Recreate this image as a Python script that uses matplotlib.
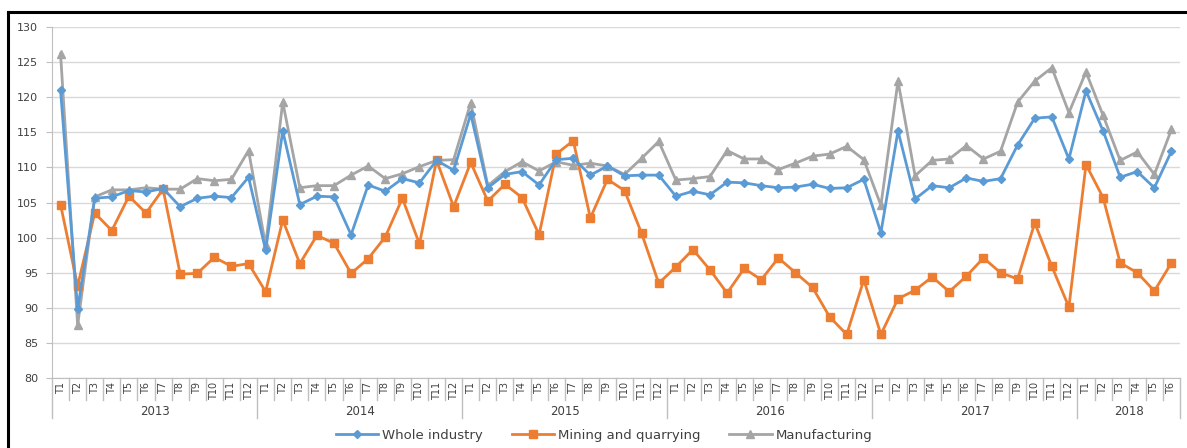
import matplotlib
matplotlib.use("Agg")
import matplotlib.pyplot as plt
from matplotlib.lines import Line2D
import matplotlib.transforms as mtransforms

years = ["2013", "2014", "2015", "2016", "2017", "2018"]
months_per_year = [12, 12, 12, 12, 12, 6]
month_labels = [f"T{m}" for n in months_per_year for m in range(1, n + 1)]

whole_industry = [
    121.0, 89.8, 105.6, 105.8, 106.7, 106.5, 107.0, 104.4, 105.6, 105.9, 105.7, 108.6,
    98.2, 115.2, 104.7, 105.9, 105.8, 100.4, 107.5, 106.6, 108.4, 107.8, 111.0, 109.6,
    117.6, 107.1, 109.0, 109.4, 107.5, 111.1, 111.3, 108.9, 110.2, 108.8, 108.9, 108.9,
    105.9, 106.6, 106.1, 107.9, 107.8, 107.4, 107.1, 107.2, 107.6, 107.0, 107.1, 108.3,
    100.7, 115.2, 105.5, 107.4, 107.1, 108.5, 108.0, 108.4, 113.2, 117.0, 117.2, 111.2,
    120.9, 115.2, 108.6, 109.4, 107.1, 112.3,
]
mining = [
    104.7, 93.1, 103.5, 101.0, 105.9, 103.5, 106.9, 94.8, 94.9, 97.2, 95.9, 96.3,
    92.3, 102.5, 96.3, 100.3, 99.2, 94.9, 97.0, 100.1, 105.6, 99.1, 111.0, 104.4,
    110.7, 105.2, 107.6, 105.7, 100.4, 111.9, 113.8, 102.8, 108.3, 106.7, 100.6, 93.5,
    95.8, 98.3, 95.4, 92.1, 95.6, 94.0, 97.1, 95.0, 92.9, 88.7, 86.2, 94.0,
    86.2, 91.3, 92.5, 94.4, 92.3, 94.5, 97.1, 95.0, 94.1, 102.1, 95.9, 90.1,
    110.4, 105.7, 96.4, 95.0, 92.4, 96.4,
]
manufacturing = [
    126.2, 87.5, 105.8, 106.8, 106.8, 107.1, 106.9, 106.9, 108.4, 108.1, 108.3, 112.4,
    98.9, 119.3, 107.1, 107.4, 107.4, 108.9, 110.2, 108.4, 109.1, 110.1, 111.0, 111.1,
    119.2, 107.4, 109.4, 110.8, 109.5, 110.8, 110.3, 110.6, 110.2, 109.0, 111.3, 113.7,
    108.2, 108.4, 108.7, 112.4, 111.2, 111.2, 109.7, 110.6, 111.6, 111.9, 113.0, 111.1,
    104.6, 122.3, 108.8, 111.0, 111.2, 113.1, 111.2, 112.3, 119.3, 122.3, 124.2, 117.8,
    123.6, 117.4, 111.0, 112.2, 109.0, 115.4,
]
series_names = ["Whole industry", "Mining and quarrying", "Manufacturing"]

W, H = 1187, 448
fig = plt.figure(figsize=(W / 100, H / 100), dpi=100)
plt.rcParams["font.family"] = "DejaVu Sans"

left, right, top, bottom = 52, 1180, 27, 378
ax = fig.add_axes([left / W, 1 - bottom / H, (right - left) / W, (bottom - top) / H])

x = list(range(len(month_labels)))
ax.plot(x, whole_industry, color="#5b9bd5", lw=2, marker="D", ms=4, label=series_names[0], zorder=4)
ax.plot(x, mining, color="#ed7d31", lw=2, marker="s", ms=6, label=series_names[1], zorder=3)
ax.plot(x, manufacturing, color="#a5a5a5", lw=2, marker="^", ms=6, label=series_names[2], zorder=2)

ax.set_ylim(80, 130)
ax.set_yticks(range(80, 131, 5))
ax.set_xlim(-0.5, len(month_labels) - 0.5)
ax.set_xticks([])
ax.grid(axis="y", color="#d9d9d9", lw=1)
ax.set_axisbelow(True)
for s in ["top", "right"]:
    ax.spines[s].set_visible(False)
ax.spines["left"].set_color("#bfbfbf")
ax.spines["bottom"].set_color("#bfbfbf")
ax.tick_params(axis="y", colors="#bfbfbf", labelcolor="#404040", labelsize=8, length=4, pad=6)

# category axis labels and separators
trans = mtransforms.blended_transform_factory(ax.transData, fig.transFigure)
def fy(py):
    return 1 - py / H

for i, lab in enumerate(month_labels):
    ax.text(i, fy(382), lab, transform=trans, rotation=90, ha="center", va="top",
            fontsize=7, color="#404040")

idx = 0
bounds = [-0.5]
for yr, n in zip(years, months_per_year):
    for k in range(1, n):
        xb = idx + k - 0.5
        ax.add_line(Line2D([xb, xb], [fy(378), fy(400)], transform=trans, color="#bfbfbf",
                           lw=1, clip_on=False))
    ax.text(idx + (n - 1) / 2, fy(411), yr, transform=trans, ha="center", va="center",
            fontsize=8.5, color="#404040")
    idx += n
    bounds.append(idx - 0.5)
for xb in bounds:
    ax.add_line(Line2D([xb, xb], [fy(378), fy(418)], transform=trans, color="#bfbfbf",
                       lw=1, clip_on=False))

# outer frame
fig.add_artist(Line2D([8 / W, 8 / W], [0, fy(12)], color="black", lw=2.2, transform=fig.transFigure))
fig.add_artist(Line2D([8 / W, 1], [fy(12), fy(12)], color="black", lw=2.2, transform=fig.transFigure))

fig.legend(loc="center", bbox_to_anchor=(604 / W, fy(435)), ncol=3, frameon=False,
           fontsize=9.5, handlelength=3.2, columnspacing=2.2, handletextpad=0.3,
           labelcolor="#404040")

fig.savefig("out.png", dpi=100)
